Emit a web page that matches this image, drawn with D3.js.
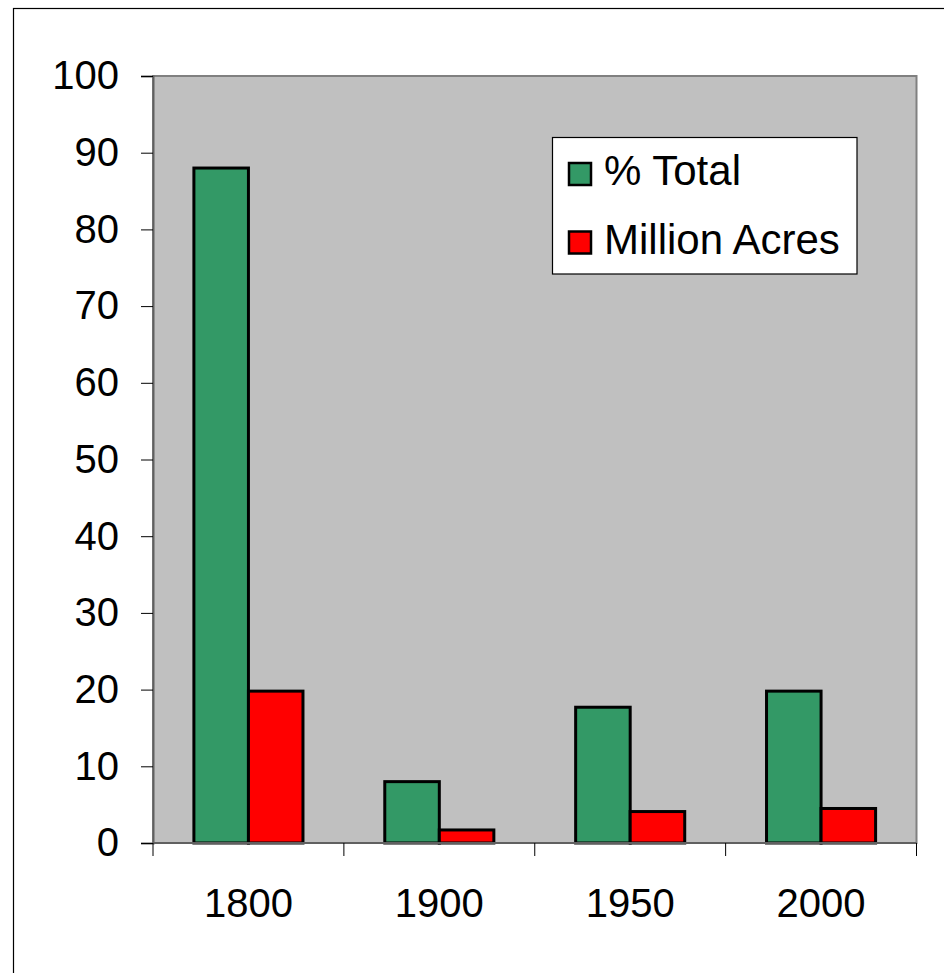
<!DOCTYPE html>
<html><head><meta charset="utf-8">
<script src="https://cdn.jsdelivr.net/npm/d3@7"></script>
<style>body{margin:0;background:#fff}svg{display:block}</style>
</head><body>
<script>
const categories = ["1800", "1900", "1950", "2000"];
const seriesNames = ["% Total", "Million Acres"];
const pctTotal = [88, 8, 17.7, 19.8];
const millionAcres = [19.8, 1.7, 4.1, 4.5];
const yTicks = [0, 10, 20, 30, 40, 50, 60, 70, 80, 90, 100];
const colors = ["#339966", "#ff0000"];

const W = 944, H = 973;
const svg = d3.select("body").append("svg").attr("width", W).attr("height", H);
const font = "'Liberation Sans', Arial, sans-serif";

// outer chart border
svg.append("rect").attr("x", 13.5).attr("y", 8.5).attr("width", 1000).attr("height", 1000)
  .attr("fill", "#fff").attr("stroke", "#000").attr("stroke-width", 1.2);

const L = 153, R = 916.5, T = 76, B = 843;
const x = d3.scaleBand().domain(categories).range([L, R]);
const y = d3.scaleLinear().domain([0, 100]).range([B, T]);

// plot area
svg.append("rect").attr("x", L).attr("y", T).attr("width", R - L).attr("height", B - T)
  .attr("fill", "#c0c0c0").attr("stroke", "#808080").attr("stroke-width", 2);

const barW = x.bandwidth() / 3.5;
const data = categories.map((c, i) => ({c, v: [pctTotal[i], millionAcres[i]]}));
const g = svg.append("g");
data.forEach(d => {
  const cx = x(d.c) + x.bandwidth() / 2;
  d.v.forEach((v, s) => {
    g.append("rect")
      .attr("x", cx - barW + s * barW).attr("y", y(v))
      .attr("width", barW).attr("height", y(0) - y(v))
      .attr("fill", colors[s]).attr("stroke", "#000").attr("stroke-width", 3);
  });
});

// axes
const yAxis = svg.append("g").attr("transform", `translate(${L},0)`)
  .call(d3.axisLeft(y).tickValues(yTicks).tickSize(12).tickPadding(22).tickFormat(d3.format("d")));
yAxis.select(".domain").attr("stroke", "#606060").attr("stroke-width", 2);
yAxis.selectAll("text").attr("font-family", font).attr("font-size", 40).attr("fill", "#000");
yAxis.selectAll("line").attr("stroke", "#000");

const xTickScale = d3.scaleLinear().domain([0, categories.length]).range([L, R]);
const xAxisG = svg.append("g").attr("transform", `translate(0,${B})`);
xAxisG.append("line").attr("x1", L).attr("x2", R).attr("y1", 0).attr("y2", 0)
  .attr("stroke", "#606060").attr("stroke-width", 2);
d3.range(categories.length + 1).forEach(i => {
  xAxisG.append("line").attr("x1", xTickScale(i)).attr("x2", xTickScale(i))
    .attr("y1", 0).attr("y2", 13).attr("stroke", "#000");
});
categories.forEach(c => {
  xAxisG.append("text").attr("x", x(c) + x.bandwidth() / 2).attr("y", 74)
    .attr("text-anchor", "middle").attr("font-family", font).attr("font-size", 40).text(c);
});

// legend
const lg = svg.append("g");
lg.append("rect").attr("x", 552.5).attr("y", 137.5).attr("width", 304.5).attr("height", 136.5)
  .attr("fill", "#fff").attr("stroke", "#000").attr("stroke-width", 1.2);
seriesNames.forEach((n, i) => {
  const cy = 174.5 + i * 68.5;
  lg.append("rect").attr("x", 569).attr("y", cy - 11.5).attr("width", 22).attr("height", 22)
    .attr("fill", colors[i]).attr("stroke", "#000").attr("stroke-width", 2.5);
  lg.append("text").attr("x", 604).attr("y", cy + 10.5).attr("font-family", font)
    .attr("font-size", 42).text(n);
});
</script>
</body></html>
